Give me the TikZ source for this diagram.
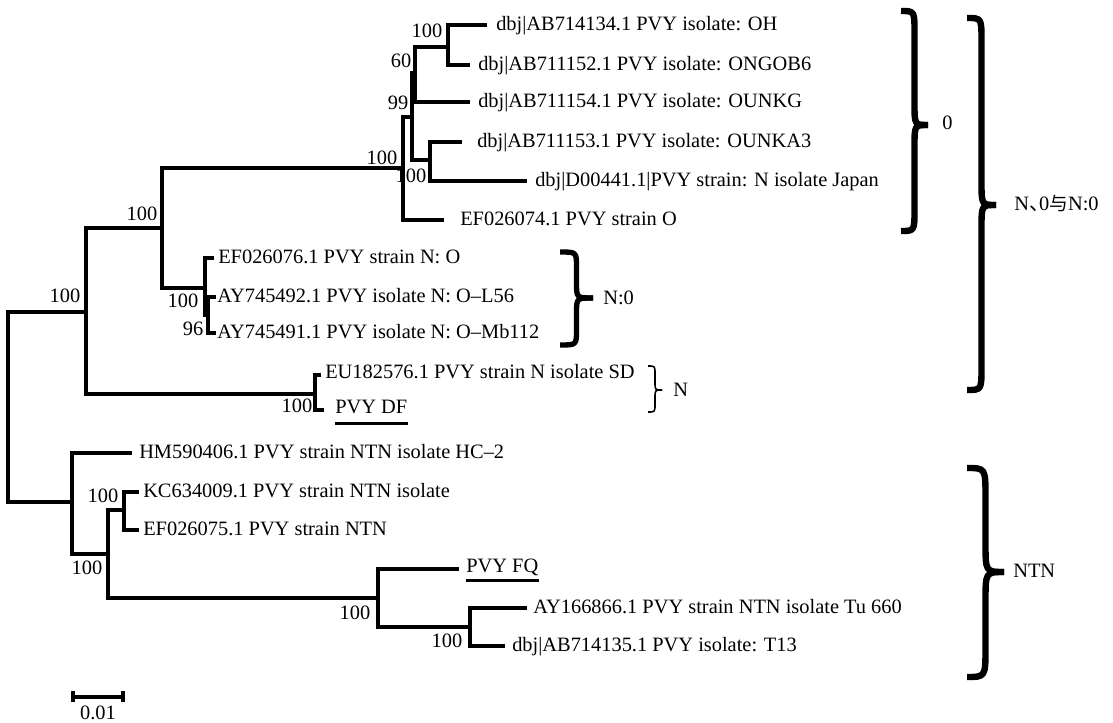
\documentclass[tikz,border=0pt]{standalone}
\usepackage{fontspec}
\setmainfont{Liberation Serif}
\newfontfamily\cjkfont{Noto Sans CJK SC}
\newcommand\curlybr[6]{%
  \pgfmathsetmacro\xs{(#2+#5)/2}%
  \pgfmathsetmacro\ra{min(0.8*(#5-#2),(#6-#3)/3)}%
  \draw[#1] (#2,#3) .. controls (\xs,#3) .. (\xs,#3+\ra) -- (\xs,#6-\ra) .. controls (\xs,#6) .. (#5,#6);
  \draw[#1] (#5,#6) .. controls (\xs,#6) .. (\xs,#6+\ra) -- (\xs,#4-\ra) .. controls (\xs,#4) .. (#2,#4);
}
\tikzset{
  branch/.style={line width=2.3pt, line cap=rect, line join=miter},
  txt/.style={inner sep=0pt, font=\fontsize{15.3}{18}\selectfont, text height=0.66em, text depth=0pt},
  leaf/.style={txt, anchor=west},
  boot/.style={txt},
  clade/.style={txt, anchor=west},
  uline/.style={line width=2.6pt},
  bbrace/.style={line width=4.8pt, line cap=butt, line join=round},
  mbrace/.style={line width=4pt, line cap=butt, line join=round},
  sbrace/.style={line width=1.2pt, line cap=butt, line join=round},
}
\begin{document}
\begin{tikzpicture}[x=0.75pt,y=-0.75pt]
\useasboundingbox (0,0) rectangle (1113,723);
% internal nodes
\coordinate (R) at (8,407);
\coordinate (L) at (86,312);
\coordinate (B) at (162,228);
\coordinate (C) at (403,168);
\coordinate (n99) at (412,117);
\coordinate (n60) at (415,73);
\coordinate (nA) at (448,47);
\coordinate (nb) at (430,160);
\coordinate (NO) at (205,288);
\coordinate (NOi) at (208,315);
\coordinate (Nn) at (315,394);
\coordinate (T) at (72,502);
\coordinate (T2) at (108,554);
\coordinate (T3) at (124,510);
\coordinate (F) at (378,598);
\coordinate (F2) at (470,627);
% tips
\coordinate (t1) at (485,25);
\coordinate (t2) at (468,65);
\coordinate (t3) at (468,102);
\coordinate (t4) at (460,142);
\coordinate (t5) at (525,181);
\coordinate (t6) at (442,220);
\coordinate (t7) at (212,258);
\coordinate (t8) at (214,297);
\coordinate (t9) at (214,333);
\coordinate (t10) at (319,375);
\coordinate (t11) at (322,410);
\coordinate (t12) at (130,453);
\coordinate (t13) at (137,492);
\coordinate (t14) at (137,530);
\coordinate (t15) at (457,569);
\coordinate (t16) at (525,608);
\coordinate (t17) at (503,646);
% branches
\draw[branch] (R) |- (L);
\draw[branch] (R) |- (T);
\draw[branch] (L) |- (B);
\draw[branch] (L) |- (Nn);
\draw[branch] (B) |- (C);
\draw[branch] (B) |- (NO);
\draw[branch] (C) |- (n99);
\draw[branch] (C) |- (t6);
\draw[branch] (n99) |- (n60);
\draw[branch] (n99) |- (nb);
\draw[branch] (n60) |- (nA);
\draw[branch] (n60) |- (t3);
\draw[branch] (nA) |- (t1);
\draw[branch] (nA) |- (t2);
\draw[branch] (nb) |- (t4);
\draw[branch] (nb) |- (t5);
\draw[branch] (NO) |- (t7);
\draw[branch] (NO) |- (NOi);
\draw[branch] (NOi) |- (t8);
\draw[branch] (NOi) |- (t9);
\draw[branch] (Nn) |- (t10);
\draw[branch] (Nn) |- (t11);
\draw[branch] (T) |- (t12);
\draw[branch] (T) |- (T2);
\draw[branch] (T2) |- (T3);
\draw[branch] (T2) |- (F);
\draw[branch] (T3) |- (t13);
\draw[branch] (T3) |- (t14);
\draw[branch] (F) |- (t15);
\draw[branch] (F) |- (F2);
\draw[branch] (F2) |- (t16);
\draw[branch] (F2) |- (t17);
% leaf labels
\node[leaf] (l1) at (496,26) {dbj|AB714134.1 PVY isolate: OH};
\node[leaf] (l2) at (478,66) {dbj|AB711152.1 PVY isolate: ONGOB6};
\node[leaf] (l3) at (478,103) {dbj|AB711154.1 PVY isolate: OUNKG};
\node[leaf] (l4) at (477,143) {dbj|AB711153.1 PVY isolate: OUNKA3};
\node[leaf] (l5) at (535,182) {dbj|D00441.1|PVY strain: N isolate Japan};
\node[leaf] (l6) at (460,221) {EF026074.1 PVY strain O};
\node[leaf] (l7) at (218,259) {EF026076.1 PVY strain N: O};
\node[leaf] (l8) at (217,298) {AY745492.1 PVY isolate N: O--L56};
\node[leaf] (l9) at (217,334) {AY745491.1 PVY isolate N: O--Mb112};
\node[leaf] (l10) at (325,374) {EU182576.1 PVY strain N isolate SD};
\node[leaf] (l11) at (335,409) {PVY DF};
\node[leaf] (l12) at (139,454) {HM590406.1 PVY strain NTN isolate HC--2};
\node[leaf] (l13) at (143,493) {KC634009.1 PVY strain NTN isolate};
\node[leaf] (l14) at (143,531) {EF026075.1 PVY strain NTN};
\node[leaf] (l15) at (466,568) {PVY FQ};
\node[leaf] (l16) at (533,609) {AY166866.1 PVY strain NTN isolate Tu 660};
\node[leaf] (l17) at (512,647) {dbj|AB714135.1 PVY isolate: T13};
\draw[uline] ([yshift=-7.5pt]l11.south west) -- ([yshift=-7.5pt]l11.south east);
\draw[uline] ([yshift=-6pt]l15.south west) -- ([yshift=-6pt]l15.south east);
% bootstrap values
\node[boot] (bA) at (427,33) {100};
\node[boot] (b60) at (401,63) {60};
\node[boot] (b99) at (398,105) {99};
\node[boot] (bC) at (382,160) {100};
\node[boot] (bb) at (411,178) {100};
\node[boot] (bB) at (142,216) {100};
\node[boot] (bNO) at (183,303) {100};
\node[boot] (bNOi) at (193,331) {96};
\node[boot] (bNn) at (297,408) {100};
\node[boot] (bL) at (65,298) {100};
\node[boot] (bT3) at (103,498) {100};
\node[boot] (bT2) at (87,570) {100};
\node[boot] (bF) at (355,615) {100};
\node[boot] (bF2) at (447,643) {100};
% braces
\curlybr{bbrace}{901}{11}{231}{928}{125}
\curlybr{bbrace}{967}{18}{390}{996}{205}
\curlybr{bbrace}{967}{468}{677}{1004}{572}
\curlybr{mbrace}{560}{252}{345}{593}{298}
\curlybr{sbrace}{648}{366}{412}{662}{390}
\node[clade] (c0) at (942,125) {0};
\node[clade] (cbig) at (1014,206) {N\makebox[0.5em][l]{\cjkfont 、}0{\cjkfont\fontsize{14}{16}\selectfont 与}N:0};
\node[clade] (cntn) at (1013,573) {NTN};
\node[clade] (cno) at (603,300) {N:0};
\node[clade] (cn) at (673,392) {N};
% scale bar
\coordinate (s1) at (73,697);
\coordinate (s2) at (123,697);
\draw[branch, line cap=butt] (s1) -- (s2);
\draw[branch, line cap=butt] ([yshift=4.5pt]s1) -- ([yshift=-4pt]s1);
\draw[branch, line cap=butt] ([yshift=4.5pt]s2) -- ([yshift=-4pt]s2);
\node[txt, anchor=base] (sl) at (98,719) {0.01};
\end{tikzpicture}
\end{document}
